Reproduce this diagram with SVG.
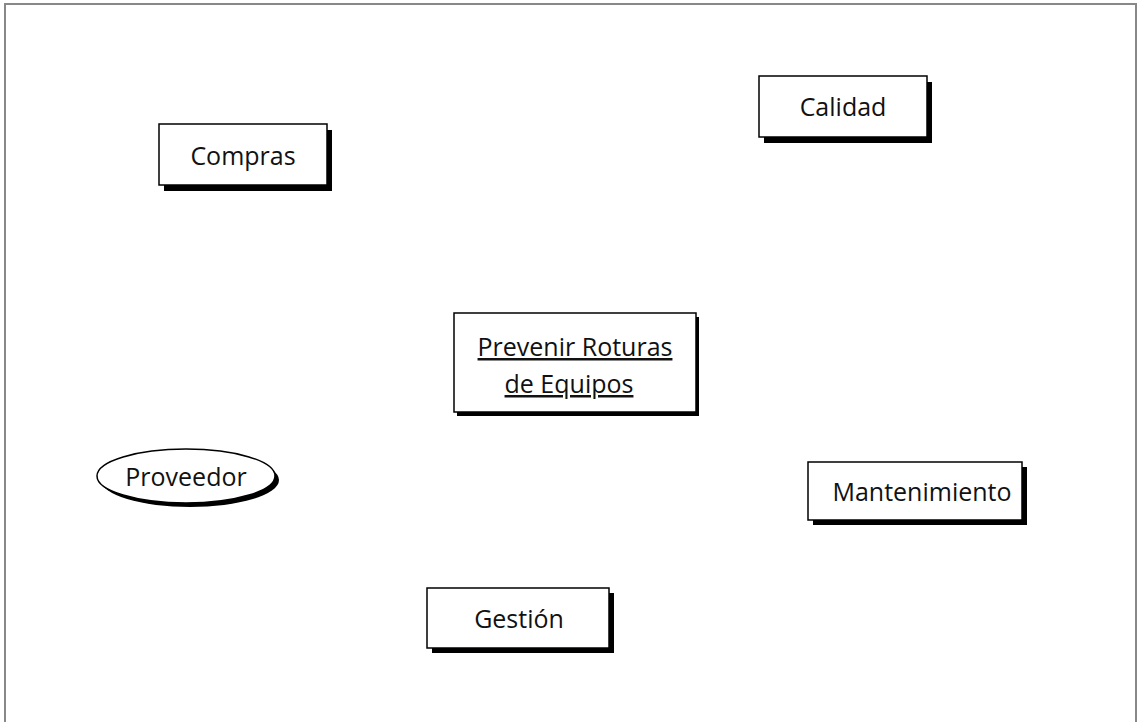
<svg xmlns="http://www.w3.org/2000/svg" width="1140" height="722" viewBox="0 0 1140 722">
<style>
.box{fill:#fff;stroke:#000;stroke-width:1.5}
.sh{fill:#000}
.t{font-family:"Open Sans","Liberation Sans",sans-serif;font-size:25px;fill:#111;text-anchor:middle}
.u{text-decoration:underline}
</style>
<rect width="1140" height="722" fill="#fff"/>
<path d="M5,730 V4 H1136 V730" fill="none" stroke="#888" stroke-width="2"/>
<g id="compras">
<rect class="sh" x="164" y="130" width="168" height="61"/>
<rect class="box" x="159" y="124" width="168" height="61"/>
<text class="t" x="243" y="165">Compras</text>
</g>
<g id="calidad">
<rect class="sh" x="764" y="82" width="168" height="61"/>
<rect class="box" x="759" y="76" width="168" height="61"/>
<text class="t" x="843" y="116">Calidad</text>
</g>
<g id="prevenir">
<rect class="sh" x="457" y="317" width="242" height="99"/>
<rect class="box" x="454" y="313" width="242" height="99"/>
<text class="t u" x="575" y="356">Prevenir Roturas</text>
<text class="t u" x="569" y="393">de Equipos</text>
</g>
<g id="proveedor">
<ellipse class="sh" cx="190" cy="480" rx="89" ry="27"/>
<ellipse class="box" cx="186" cy="476" rx="89" ry="27"/>
<text class="t" x="186" y="486">Proveedor</text>
</g>
<g id="mantenimiento">
<rect class="sh" x="813" y="467" width="214" height="58"/>
<rect class="box" x="808" y="462" width="214" height="58"/>
<text class="t" x="922" y="501">Mantenimiento</text>
</g>
<g id="gestion">
<rect class="sh" x="432" y="593" width="182" height="60"/>
<rect class="box" x="427" y="588" width="182" height="60"/>
<text class="t" x="519" y="628">Gestión</text>
</g>
<g id="connectors"></g>
</svg>
